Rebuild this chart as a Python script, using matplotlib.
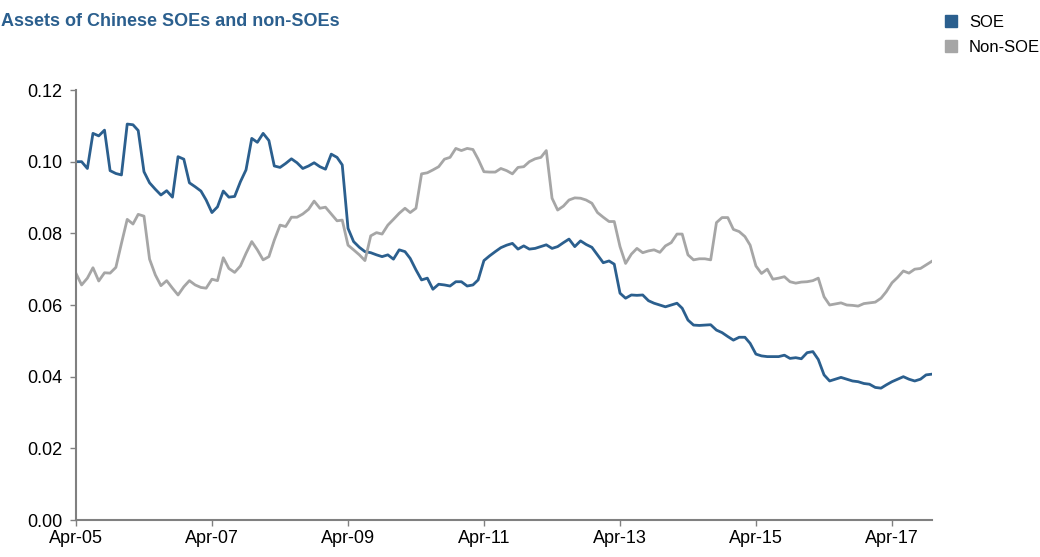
import matplotlib
matplotlib.use("Agg")
import matplotlib.pyplot as plt
import pandas as pd

dates = pd.date_range("2005-04-01", periods=152, freq="MS")
tick_dates = dates[::24]
tick_labels = ["Apr-05", "Apr-07", "Apr-09", "Apr-11", "Apr-13", "Apr-15", "Apr-17"]

soe = [
    0.1000, 0.1000, 0.0981, 0.1079, 0.1072, 0.1088, 0.0975, 0.0967, 0.0963, 0.1105,
    0.1103, 0.1087, 0.0972, 0.0941, 0.0923, 0.0907, 0.0919, 0.0901, 0.1014, 0.1007,
    0.0941, 0.0930, 0.0918, 0.0893, 0.0858, 0.0874, 0.0918, 0.0901, 0.0903, 0.0944,
    0.0977, 0.1065, 0.1054, 0.1079, 0.1059, 0.0988, 0.0984, 0.0995, 0.1008, 0.0997,
    0.0981, 0.0988, 0.0997, 0.0986, 0.0979, 0.1021, 0.1012, 0.0991, 0.0814, 0.0777,
    0.0761, 0.0749, 0.0746, 0.0740, 0.0735, 0.0740, 0.0728, 0.0754, 0.0749, 0.0730,
    0.0698, 0.0670, 0.0675, 0.0644, 0.0658, 0.0656, 0.0653, 0.0665, 0.0665, 0.0653,
    0.0656, 0.0670, 0.0724, 0.0737, 0.0749, 0.0760, 0.0767, 0.0772, 0.0756, 0.0765,
    0.0756, 0.0758, 0.0763, 0.0768, 0.0758, 0.0763, 0.0774, 0.0784, 0.0763, 0.0779,
    0.0769, 0.0761, 0.0740, 0.0718, 0.0723, 0.0714, 0.0633, 0.0619, 0.0628, 0.0627,
    0.0628, 0.0612, 0.0605, 0.0600, 0.0595, 0.0600, 0.0605, 0.0591, 0.0558, 0.0544,
    0.0543, 0.0544, 0.0545, 0.0530, 0.0523, 0.0512, 0.0502, 0.0510, 0.0510, 0.0493,
    0.0463, 0.0458, 0.0456, 0.0456, 0.0456, 0.0460, 0.0451, 0.0453, 0.0450, 0.0467,
    0.0470, 0.0448, 0.0405, 0.0388, 0.0393, 0.0398, 0.0393, 0.0388, 0.0386, 0.0381,
    0.0379, 0.0370, 0.0368, 0.0377, 0.0386, 0.0393, 0.0400, 0.0393, 0.0388, 0.0393,
    0.0405, 0.0407,
]

non_soe = [
    0.0688, 0.0656, 0.0675, 0.0704, 0.0667, 0.0690, 0.0689, 0.0705, 0.0772, 0.0839,
    0.0826, 0.0853, 0.0848, 0.0728, 0.0684, 0.0654, 0.0668, 0.0647, 0.0628, 0.0651,
    0.0668, 0.0656, 0.0649, 0.0647, 0.0672, 0.0668, 0.0732, 0.0702, 0.0691, 0.0709,
    0.0744, 0.0777, 0.0754, 0.0726, 0.0735, 0.0781, 0.0823, 0.0819, 0.0845, 0.0845,
    0.0854, 0.0867, 0.0890, 0.0870, 0.0873, 0.0854, 0.0835, 0.0837, 0.0767, 0.0754,
    0.0740, 0.0724, 0.0793, 0.0802, 0.0798, 0.0823, 0.0839, 0.0856, 0.0870, 0.0858,
    0.0870, 0.0966, 0.0969, 0.0977, 0.0986, 0.1007, 0.1012, 0.1037, 0.1031, 0.1037,
    0.1034, 0.1007, 0.0972, 0.0971, 0.0971, 0.0981, 0.0975, 0.0966, 0.0984, 0.0986,
    0.1000, 0.1008, 0.1012, 0.1031, 0.0898, 0.0865, 0.0876, 0.0893, 0.0899, 0.0898,
    0.0893, 0.0884, 0.0858, 0.0845, 0.0833, 0.0833, 0.0763, 0.0716, 0.0742, 0.0758,
    0.0746, 0.0751, 0.0754, 0.0747, 0.0765, 0.0774, 0.0798, 0.0798, 0.0740, 0.0726,
    0.0729, 0.0729, 0.0726, 0.0830, 0.0844, 0.0844, 0.0811, 0.0805, 0.0791, 0.0767,
    0.0709, 0.0688, 0.0700, 0.0672, 0.0675, 0.0679, 0.0665, 0.0661, 0.0664, 0.0665,
    0.0668, 0.0675, 0.0623, 0.0600, 0.0603, 0.0606, 0.0600, 0.0599, 0.0597, 0.0604,
    0.0606, 0.0608, 0.0619, 0.0637, 0.0662, 0.0677, 0.0695, 0.0689, 0.0700, 0.0702,
    0.0712, 0.0722,
]

soe_color = "#2b5f8e"
non_color = "#a6a6a6"
plt.rcParams["font.family"] = ["Liberation Sans", "DejaVu Sans"]

fig = plt.figure(figsize=(10.4, 5.57), dpi=100)
ax = fig.add_axes([0.0731, 0.0664, 0.8229, 0.772])

ax.plot(dates, soe, color=soe_color, lw=2.0, label="SOE")
ax.plot(dates, non_soe, color=non_color, lw=2.0, label="Non-SOE")

ax.set_xlim(dates[0], dates[-1])
ax.set_ylim(0, 0.12)
ax.set_yticks([0, 0.02, 0.04, 0.06, 0.08, 0.10, 0.12])
ax.yaxis.set_major_formatter(matplotlib.ticker.FormatStrFormatter("%.2f"))
ax.set_xticks(tick_dates)
ax.set_xticklabels(tick_labels)

for s in ["top", "right"]:
    ax.spines[s].set_visible(False)
for s in ["left", "bottom"]:
    ax.spines[s].set_color("#808080")
    ax.spines[s].set_linewidth(1.5)
ax.tick_params(axis="both", colors="#808080", labelcolor="black", labelsize=13,
               length=4, width=1)
ax.tick_params(axis="y", pad=31)
for lbl in ax.get_yticklabels():
    lbl.set_horizontalalignment("left")

fig.text(0.001, 0.962, "Assets of Chinese SOEs and non-SOEs", fontsize=13,
         fontweight="bold", color=soe_color, ha="left", va="center")

fig.legend(loc="upper left", bbox_to_anchor=(0.894, 1.0), frameon=False,
           handles=[matplotlib.patches.Patch(color=soe_color, label="SOE"),
                    matplotlib.patches.Patch(color=non_color, label="Non-SOE")],
           fontsize=12, handlelength=0.75, handleheight=0.75, handletextpad=0.7,
           labelspacing=0.6)

fig.savefig("out.png", dpi=100)
